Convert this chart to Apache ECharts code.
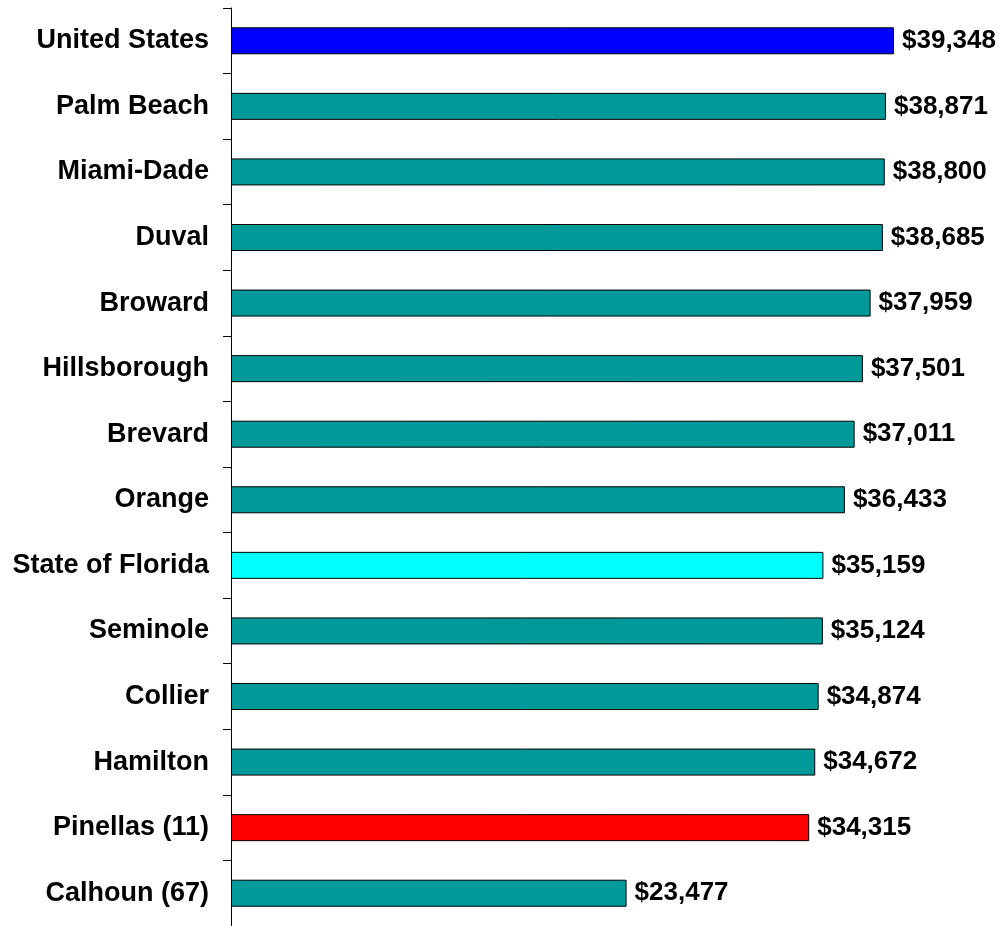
<!DOCTYPE html>
<html>
<head>
<meta charset="utf-8">
<script src="https://cdn.jsdelivr.net/npm/echarts@6/dist/echarts.min.js"></script>
<style>
  html, body { margin: 0; padding: 0; background: #fff; }
  #main { width: 1000px; height: 926px; }
</style>
</head>
<body>
<div id="main"></div>
<script>
var myChart = echarts.init(document.getElementById('main'));

var areas = ['United States', 'Palm Beach', 'Miami-Dade', 'Duval', 'Broward', 'Hillsborough',
    'Brevard', 'Orange', 'State of Florida', 'Seminole', 'Collier', 'Hamilton',
    'Pinellas (11)', 'Calhoun (67)'];
var income = [39348, 38871, 38800, 38685, 37959, 37501, 37011, 36433, 35159, 35124,
    34874, 34672, 34315, 23477];

// bars that stand out from the teal ones
var highlight = {
    'United States': '#0000ff',
    'State of Florida': '#00ffff',
    'Pinellas (11)': '#ff0000'
};

var barData = income.map(function (v, i) {
    return {
        value: v,
        itemStyle: { color: highlight[areas[i]] || '#009999' }
    };
});

var fmt = function (v) {
    return '$' + String(v).replace(/\B(?=(\d{3})+(?!\d))/g, ',');
};

option = {
    animation: false,
    grid: {
        left: 231,
        top: 8,
        width: 674,
        height: 920
    },
    xAxis: {
        type: 'value',
        min: 0,
        max: 40000,
        show: false
    },
    yAxis: {
        type: 'category',
        data: areas,
        inverse: true,
        axisLine: { show: true, lineStyle: { color: '#000', width: 1 } },
        axisTick: { show: true, length: 8, lineStyle: { color: '#000', width: 1 } },
        axisLabel: {
            margin: 22,
            color: '#000',
            fontFamily: 'Liberation Sans, Arial, sans-serif',
            fontWeight: 'bold',
            fontSize: 27,
            padding: [5, 0, 0, 0]
        },
        splitLine: { show: false }
    },
    series: [{
        type: 'bar',
        data: barData,
        barWidth: 27,
        itemStyle: { borderColor: '#000', borderWidth: 1 },
        label: {
            show: true,
            position: 'right',
            distance: 8,
            color: '#000',
            fontFamily: 'Liberation Sans, Arial, sans-serif',
            fontWeight: 'bold',
            fontSize: 26,
            padding: [4, 0, 0, 0],
            formatter: function (p) { return fmt(p.value); }
        }
    }]
};

myChart.setOption(option);
</script>
</body>
</html>
